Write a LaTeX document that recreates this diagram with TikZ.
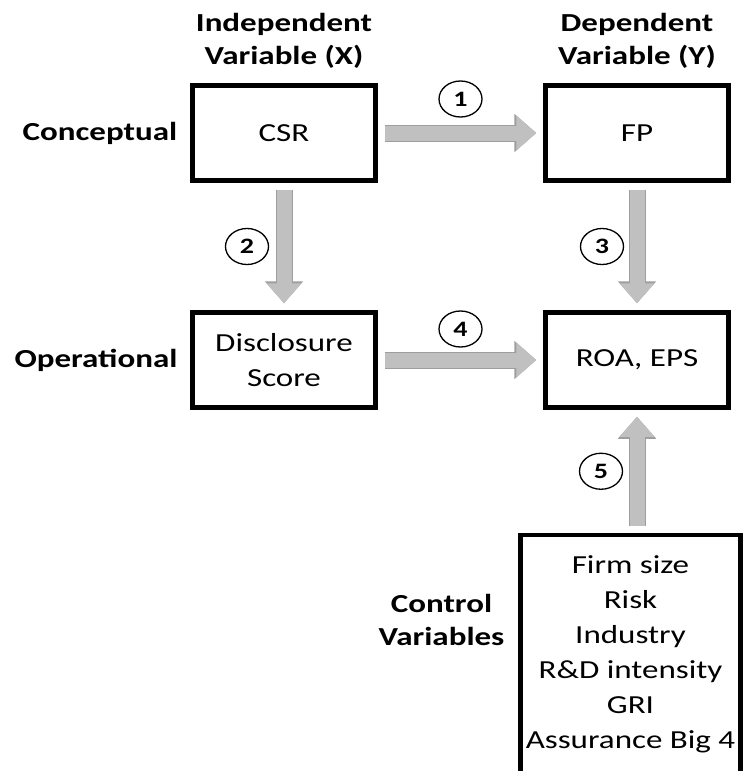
\documentclass[tikz,border=0pt]{standalone}
\usepackage{fontspec}
\setmainfont{Carlito}[FakeStretch=1.27]
\usepackage{tikz}
\usetikzlibrary{arrows.meta,positioning,shapes.geometric}

\definecolor{arrowfill}{RGB}{192,192,192}
\definecolor{arrowedge}{RGB}{158,158,158}

\tikzset{
  varbox/.style={draw, line width=4.5pt, minimum width=183pt, minimum height=95pt,
    align=center, font=\fontsize{26}{35}\selectfont},
  rowlabel/.style={inner sep=0pt, align=center, font=\fontsize{26}{33}\selectfont\bfseries},
  pathnum/.style={draw=black, text=black, fill=white, ellipse, line width=1.3pt,
    minimum width=43pt, minimum height=36pt,
    inner sep=0pt, font=\fontsize{22}{22}\selectfont\bfseries},
  fatarrow/.style={draw=arrowfill, line width=15pt, -{Triangle[length=20pt,width=34pt]},
    shorten <=7pt, shorten >=7pt,
    preaction={draw=arrowedge, line width=17pt, -{Triangle[length=22pt,width=37pt]}}}
}

\begin{document}
\begin{tikzpicture}[%
x=1pt, y=-1pt,
node distance=100pt,
on grid
]
\useasboundingbox (0,0) rectangle (747,771);
\clip (0,0) rectangle (747,771);

\node[varbox] (csr) at (284,133) {CSR};
\node[varbox] (fp) [right=353pt of csr] {FP};
\node[varbox] (disc) [below=227pt of csr] {Disclosure\\Score};
\node[varbox] (roa) [right=353pt of disc] {ROA, EPS};
\node[varbox, minimum width=220pt, minimum height=238pt, xshift=-6.5pt] (ctrl) [below=294pt of roa]
  {Firm size\\Risk\\Industry\\R\&D intensity\\GRI\\Assurance Big 4};

% headings and row labels
\node[rowlabel] (indep) [above=92pt of csr] {Independent\\Variable (X)};
\node[rowlabel] (dep) [above=92pt of fp] {Dependent\\Variable (Y)};
\node[rowlabel] (concept) [left=184pt of csr] {Conceptual};
\node[rowlabel] (oper) [left=188pt of disc] {Operational};
\node[rowlabel, yshift=34pt] (ctrllab) [left=189pt of ctrl] {Control\\Variables};

% paths
\draw[fatarrow] (csr) -- node[pathnum, yshift=34pt] (n1) {1} (fp);
\draw[fatarrow] (csr) -- node[pathnum, xshift=-37pt] (n2) {2} (disc);
\draw[fatarrow] (fp) -- node[pathnum, xshift=-35pt] (n3) {3} (roa);
\draw[fatarrow] (disc) -- node[pathnum, yshift=31pt] (n4) {4} (roa);
\draw[fatarrow] (ctrl.north -| roa) -- node[pathnum, xshift=-36pt] (n5) {5} (roa);

\end{tikzpicture}
\end{document}
